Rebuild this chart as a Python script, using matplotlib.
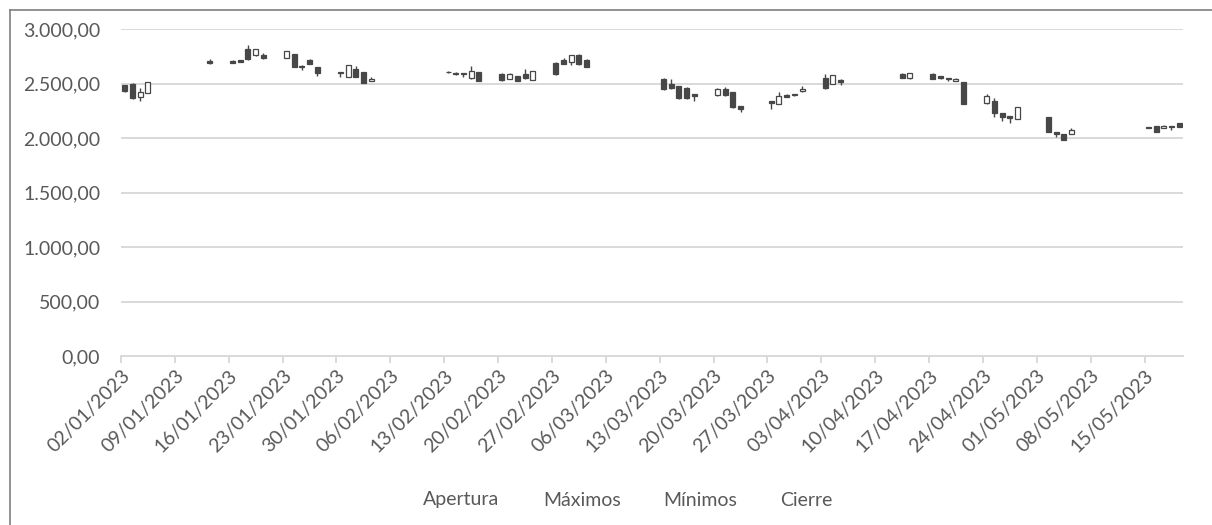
"""
OHLC candlestick chart (Excel-style stock chart), Jan-May 2023.
"""

import matplotlib
matplotlib.use("Agg")
import matplotlib.dates as mdates
import matplotlib.pyplot as plt
import pandas as pd
from matplotlib.lines import Line2D
from matplotlib.ticker import FuncFormatter

# --- data ------------------------------------------------------------------
dates = [
    "02/01/2023", "03/01/2023", "04/01/2023", "05/01/2023", "13/01/2023",
    "16/01/2023", "17/01/2023", "18/01/2023", "19/01/2023", "20/01/2023",
    "23/01/2023", "24/01/2023", "25/01/2023", "26/01/2023", "27/01/2023",
    "30/01/2023", "31/01/2023", "01/02/2023", "02/02/2023", "03/02/2023",
    "13/02/2023", "14/02/2023", "15/02/2023", "16/02/2023", "17/02/2023",
    "20/02/2023", "21/02/2023", "22/02/2023", "23/02/2023", "24/02/2023",
    "27/02/2023", "28/02/2023", "01/03/2023", "02/03/2023", "03/03/2023",
    "13/03/2023", "14/03/2023", "15/03/2023", "16/03/2023", "17/03/2023",
    "20/03/2023", "21/03/2023", "22/03/2023", "23/03/2023", "27/03/2023",
    "28/03/2023", "29/03/2023", "30/03/2023", "31/03/2023", "03/04/2023",
    "04/04/2023", "05/04/2023", "13/04/2023", "14/04/2023", "17/04/2023",
    "18/04/2023", "19/04/2023", "20/04/2023", "21/04/2023", "24/04/2023",
    "25/04/2023", "26/04/2023", "27/04/2023", "28/04/2023", "02/05/2023",
    "03/05/2023", "04/05/2023", "05/05/2023", "15/05/2023", "16/05/2023",
    "17/05/2023", "18/05/2023", "19/05/2023",
]
apertura = [
    2485, 2495, 2375, 2416, 2710, 2712, 2720, 2815, 2760, 2760,
    2740, 2770, 2660, 2720, 2650, 2608, 2565, 2640, 2608, 2525,
    2612, 2585, 2598, 2550, 2608, 2585, 2545, 2570, 2592, 2535,
    2695, 2718, 2702, 2765, 2722, 2548, 2495, 2478, 2462, 2405,
    2395, 2455, 2420, 2296, 2342, 2315, 2398, 2405, 2430, 2555,
    2497, 2538, 2590, 2552, 2590, 2570, 2555, 2525, 2515, 2320,
    2342, 2232, 2200, 2175, 2196, 2058, 2038, 2040, 2102, 2108,
    2095, 2112, 2135,
]
maximos = [
    2490, 2505, 2465, 2515, 2730, 2714, 2722, 2855, 2818, 2785,
    2805, 2772, 2676, 2724, 2652, 2610, 2672, 2660, 2612, 2562,
    2614, 2610, 2600, 2660, 2610, 2595, 2600, 2575, 2632, 2620,
    2698, 2740, 2765, 2770, 2725, 2552, 2548, 2480, 2470, 2408,
    2458, 2470, 2422, 2298, 2345, 2425, 2402, 2410, 2475, 2588,
    2582, 2540, 2595, 2600, 2597, 2572, 2557, 2553, 2518, 2404,
    2373, 2235, 2203, 2290, 2198, 2060, 2040, 2095, 2105, 2110,
    2120, 2114, 2138,
]
minimos = [
    2425, 2360, 2345, 2415, 2680, 2690, 2697, 2720, 2755, 2730,
    2735, 2650, 2630, 2678, 2570, 2562, 2560, 2560, 2505, 2522,
    2603, 2583, 2560, 2548, 2522, 2525, 2540, 2522, 2548, 2530,
    2582, 2680, 2676, 2675, 2652, 2445, 2455, 2360, 2362, 2342,
    2392, 2392, 2280, 2242, 2266, 2312, 2378, 2385, 2428, 2455,
    2495, 2486, 2552, 2545, 2542, 2548, 2522, 2522, 2312, 2318,
    2195, 2156, 2144, 2172, 2055, 2012, 1980, 2035, 2090, 2057,
    2092, 2075, 2104,
]
cierre = [
    2430, 2365, 2425, 2514, 2695, 2692, 2700, 2725, 2815, 2735,
    2800, 2655, 2650, 2680, 2600, 2595, 2670, 2565, 2508, 2545,
    2605, 2598, 2585, 2615, 2525, 2535, 2590, 2525, 2550, 2615,
    2585, 2682, 2760, 2680, 2655, 2448, 2460, 2365, 2368, 2388,
    2455, 2395, 2285, 2270, 2320, 2385, 2382, 2395, 2450, 2458,
    2578, 2520, 2555, 2595, 2545, 2552, 2545, 2540, 2315, 2385,
    2228, 2192, 2185, 2287, 2060, 2040, 1985, 2072, 2092, 2060,
    2110, 2100, 2105,
]
legend_labels = ["Apertura", "Máximos", "Mínimos", "Cierre"]
legend_x_px = [423, 543, 663, 780]

TEXT = "#595959"
GRID = "#d9d9d9"
CANDLE = "#474747"
FONT = ["Lato", "DejaVu Sans"]
FS = 14


def euro_fmt(v, _pos):
    s = f"{v:,.2f}"
    return s.replace(",", "X").replace(".", ",").replace("X", ".")


def main() -> None:
    plt.rcParams["font.family"] = FONT
    W, H = 1212, 525
    fig = plt.figure(figsize=(W / 100, H / 100), dpi=100)
    ax = fig.add_axes([121 / W, 1 - 356 / H, (1183 - 121) / W, (356 - 29.3) / H])

    x = mdates.date2num(pd.to_datetime(dates, format="%d/%m/%Y")) + 0.5
    width = 0.65
    for xi, o, h, l, c in zip(x, apertura, maximos, minimos, cierre):
        ax.vlines(xi, l, h, color=CANDLE, lw=1.0, zorder=2)
        lo, hi = min(o, c), max(o, c)
        face = "white" if c >= o else CANDLE
        ax.bar(xi, max(hi - lo, 3), bottom=lo, width=width, color=face,
               edgecolor=CANDLE, linewidth=0.9, zorder=3)

    ax.set_ylim(0, 3000)
    ax.set_yticks(range(0, 3001, 500))
    ax.yaxis.set_major_formatter(FuncFormatter(euro_fmt))
    ax.grid(axis="y", color=GRID, lw=1.4, zorder=0)
    ax.set_axisbelow(True)

    start = mdates.date2num(pd.Timestamp("2023-01-02"))
    ax.set_xlim(start, start + 138)
    ax.xaxis.set_major_locator(mdates.WeekdayLocator(byweekday=mdates.MO))
    ax.xaxis.set_major_formatter(mdates.DateFormatter("%d/%m/%Y"))

    for side in ("top", "right", "left"):
        ax.spines[side].set_visible(False)
    ax.spines["bottom"].set_color(GRID)
    ax.spines["bottom"].set_linewidth(1.4)
    ax.tick_params(axis="y", length=0, pad=15, labelsize=FS, labelcolor=TEXT)
    ax.tick_params(axis="x", length=5, width=1.4, color=GRID, pad=3,
                   labelsize=FS, labelcolor=TEXT)
    for lbl in ax.get_xticklabels():
        lbl.set_rotation(45)
        lbl.set_ha("right")
        lbl.set_va("top")
        lbl.set_rotation_mode("anchor")

    for name, px in zip(legend_labels, legend_x_px):
        fig.text(px / W, 1 - 500 / H, name, ha="left", va="center",
                 fontsize=FS, color=TEXT)

    # chart frame (only left and top edges are inside the crop)
    fig.add_artist(Line2D([9.5 / W, 9.5 / W], [0, 1 - 9.5 / H],
                          transform=fig.transFigure, color="#7f7f7f", lw=1.2))
    fig.add_artist(Line2D([9.5 / W, 1], [1 - 9.5 / H, 1 - 9.5 / H],
                          transform=fig.transFigure, color="#7f7f7f", lw=1.2))

    fig.savefig("out.png", dpi=100)
    plt.close(fig)


if __name__ == "__main__":
    main()
